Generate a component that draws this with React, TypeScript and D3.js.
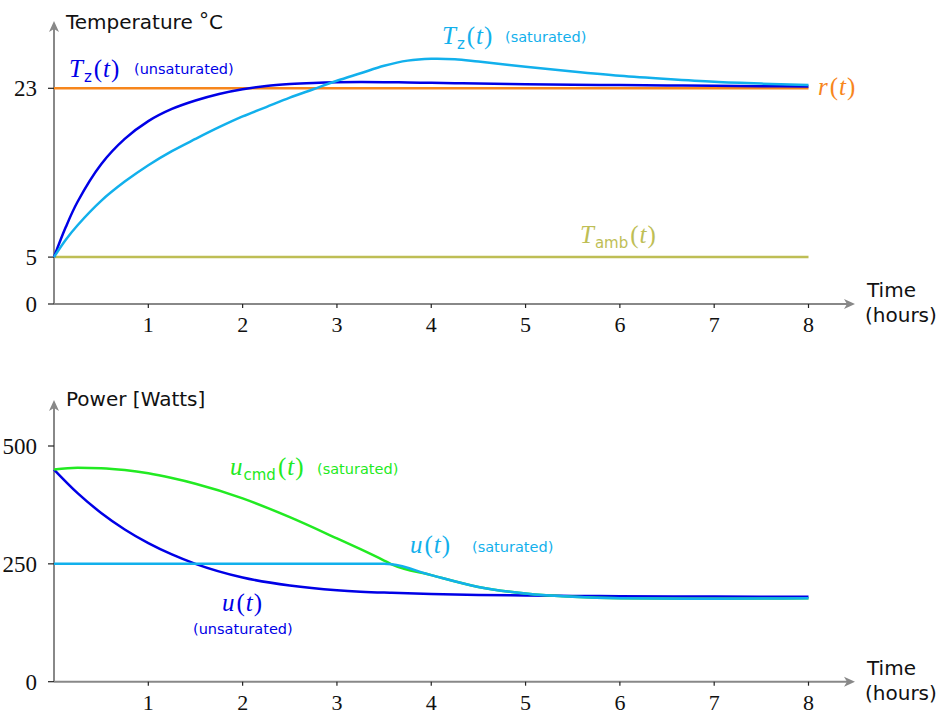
import React from 'react';
import * as d3 from 'd3';

// time grid (hours) for the temperature panel
const tempHours = [0, 0.125, 0.25, 0.5, 0.75, 1, 1.25, 1.5, 1.75, 2, 2.25, 2.5, 2.75, 3, 3.25, 3.5, 3.75, 4, 4.25, 4.5, 5, 5.5, 6, 6.5, 7, 7.5, 8];
const tempUnsaturated = [5, 8.2, 10.9, 14.9, 17.6, 19.5, 20.8, 21.7, 22.4, 22.9, 23.25, 23.45, 23.57, 23.64, 23.66, 23.65, 23.62, 23.58, 23.54, 23.5, 23.44, 23.39, 23.34, 23.3, 23.26, 23.23, 23.2];
const tempSaturated = [5, 6.85, 8.4, 11.0, 13.05, 14.8, 16.3, 17.6, 18.85, 20.0, 21.0, 22.0, 22.9, 23.8, 24.6, 25.4, 25.95, 26.15, 26.1, 25.85, 25.3, 24.8, 24.35, 24.0, 23.7, 23.5, 23.35];
const setpoint = 23;
const ambient = 5;

// time grid (hours) for the power panel
const powerHours = [0, 0.25, 0.5, 0.75, 1, 1.25, 1.5, 2, 2.5, 3, 3.25, 3.5, 3.58, 4, 4.5, 5, 5.5, 6, 7, 8];
const powerUnsaturated = [450, 400, 358, 323, 294, 270, 250, 221, 204, 194, 191, 189, 188.5, 186, 184, 183, 182, 181.3, 180.5, 180];
const powerCommand = [450, 454, 453, 449, 442, 432, 420, 389, 349, 304, 281, 257, 249, 226, 201, 187, 180, 177, 176, 177];
const powerSaturated = [250, 250, 250, 250, 250, 250, 250, 250, 250, 250, 250, 250, 249, 226, 201, 187, 180, 177, 176, 177];

const hourTicks = [1, 2, 3, 4, 5, 6, 7, 8];
const tempTicks = [0, 5, 23];
const powerTicks = [0, 250, 500];

const AXIS = '#888888';
const BLUE = '#0000e6';
const CYAN = '#12b0ec';
const ORANGE = '#f7861c';
const OLIVE = '#bebe55';
const GREEN = '#22ea22';

const SANS = '"DejaVu Sans", sans-serif';
const SERIF = '"Liberation Serif", serif';

const x = d3.scaleLinear().domain([0, 8]).range([54, 808.5]);
const yTemp = d3.scaleLinear().domain([0, 23]).range([304, 88.3]);
const yPower = d3.scaleLinear().domain([0, 500]).range([681.7, 446]);

function makeLine(y: d3.ScaleLinear<number, number>, curve: d3.CurveFactory) {
    return d3.line<[number, number]>()
        .x(d => x(d[0]))
        .y(d => y(d[1]))
        .curve(curve);
}

const zip = (a: number[], b: number[]) => a.map((v, i) => [v, b[i]] as [number, number]);

// small math-style label: italic symbol, optional sans subscript, then (t)
function MathLabel({ x0, y0, sym, sub, color }: { x0: number; y0: number; sym: string; sub?: string; color: string }) {
    return (
        <text x={x0} y={y0} fill={color} fontFamily={SERIF} fontSize={25}>
            <tspan fontStyle="italic">{sym}</tspan>
            {sub && <tspan fontFamily={SANS} fontSize={15} dy={5} dx={1}>{sub}</tspan>}
            <tspan dy={sub ? -5 : 0} dx={2}>(</tspan>
            <tspan fontStyle="italic" dx={1}>t</tspan>
            <tspan dx={1}>)</tspan>
        </text>
    );
}

function Note({ x0, y0, text, color }: { x0: number; y0: number; text: string; color: string }) {
    return <text x={x0} y={y0} fill={color} fontFamily={SANS} fontSize={14.5}>{text}</text>;
}

function Axes({ y, ticks, top }: { y: d3.ScaleLinear<number, number>; ticks: number[]; top: number }) {
    const y0 = y(0);
    const x0 = x(0);
    const xEnd = 855;
    return (
        <g>
            <line x1={x0} x2={xEnd - 4} y1={y0} y2={y0} stroke={AXIS} strokeWidth={2} />
            <path d={`M${xEnd},${y0} L${xEnd - 11},${y0 - 5} L${xEnd - 8},${y0} L${xEnd - 11},${y0 + 5} Z`} fill={AXIS} />
            <line x1={x0} x2={x0} y1={y0} y2={top + 4} stroke={AXIS} strokeWidth={2} />
            <path d={`M${x0},${top} L${x0 - 5},${top + 11} L${x0},${top + 8} L${x0 + 5},${top + 11} Z`} fill={AXIS} />
            {hourTicks.map(h => (
                <g key={h}>
                    <line x1={x(h)} x2={x(h)} y1={y0} y2={y0 + 4} stroke="#222" strokeWidth={1.2} />
                    <text x={x(h)} y={y0 + 28} textAnchor="middle" fontFamily={SERIF} fontSize={22} fill="#111">{h}</text>
                </g>
            ))}
            {ticks.map(t => (
                <g key={t}>
                    <line x1={x0 - 6} x2={x0} y1={y(t)} y2={y(t)} stroke="#222" strokeWidth={1.2} />
                    <text x={37} y={y(t) + 8} textAnchor="end" fontFamily={SERIF} fontSize={23} fill="#111">{t}</text>
                </g>
            ))}
            <text x={867} y={y0 - 7} fontFamily={SANS} fontSize={20} fill="#111">Time</text>
            <text x={865} y={y0 + 18} fontFamily={SANS} fontSize={20} fill="#111">(hours)</text>
        </g>
    );
}

export default function App() {
    const tLine = makeLine(yTemp, d3.curveCatmullRom.alpha(0.5));
    const pLine = makeLine(yPower, d3.curveMonotoneX);
    return (
        <svg width={943} height={715} style={{ position: 'absolute', left: 0, top: 0, background: '#fff' }}>
            {/* temperature panel */}
            <Axes y={yTemp} ticks={tempTicks} top={21} />
            <text x={66} y={29} fontFamily={SANS} fontSize={20} fill="#111">Temperature <tspan dy={-2}>°</tspan><tspan dy={2}>C</tspan></text>
            <line x1={x(0)} x2={x(8)} y1={yTemp(ambient)} y2={yTemp(ambient)} stroke={OLIVE} strokeWidth={2.5} />
            <line x1={x(0)} x2={x(8)} y1={yTemp(setpoint)} y2={yTemp(setpoint)} stroke={ORANGE} strokeWidth={2.5} />
            <path d={tLine(zip(tempHours, tempUnsaturated)) ?? ''} fill="none" stroke={BLUE} strokeWidth={2.5} />
            <path d={tLine(zip(tempHours, tempSaturated)) ?? ''} fill="none" stroke={CYAN} strokeWidth={2.5} />
            <MathLabel x0={69} y0={77} sym="T" sub="z" color={BLUE} />
            <Note x0={134} y0={74} text="(unsaturated)" color={BLUE} />
            <MathLabel x0={442} y0={44} sym="T" sub="z" color={CYAN} />
            <Note x0={505} y0={42} text="(saturated)" color={CYAN} />
            <MathLabel x0={818} y0={95} sym="r" color={ORANGE} />
            <MathLabel x0={580} y0={243} sym="T" sub="amb" color={OLIVE} />

            {/* power panel */}
            <Axes y={yPower} ticks={powerTicks} top={400} />
            <text x={66} y={406} fontFamily={SANS} fontSize={20} fill="#111">Power [Watts]</text>
            <path d={pLine(zip(powerHours, powerUnsaturated)) ?? ''} fill="none" stroke={BLUE} strokeWidth={2.5} />
            <path d={pLine(zip(powerHours, powerCommand)) ?? ''} fill="none" stroke={GREEN} strokeWidth={2.5} />
            <path d={pLine(zip(powerHours, powerSaturated)) ?? ''} fill="none" stroke={CYAN} strokeWidth={2.5} />
            <MathLabel x0={230} y0={475} sym="u" sub="cmd" color={GREEN} />
            <Note x0={317} y0={474} text="(saturated)" color={GREEN} />
            <MathLabel x0={410} y0={553} sym="u" color={CYAN} />
            <Note x0={472} y0={552} text="(saturated)" color={CYAN} />
            <MathLabel x0={222} y0={611} sym="u" color={BLUE} />
            <Note x0={193} y0={634} text="(unsaturated)" color={BLUE} />
        </svg>
    );
}
